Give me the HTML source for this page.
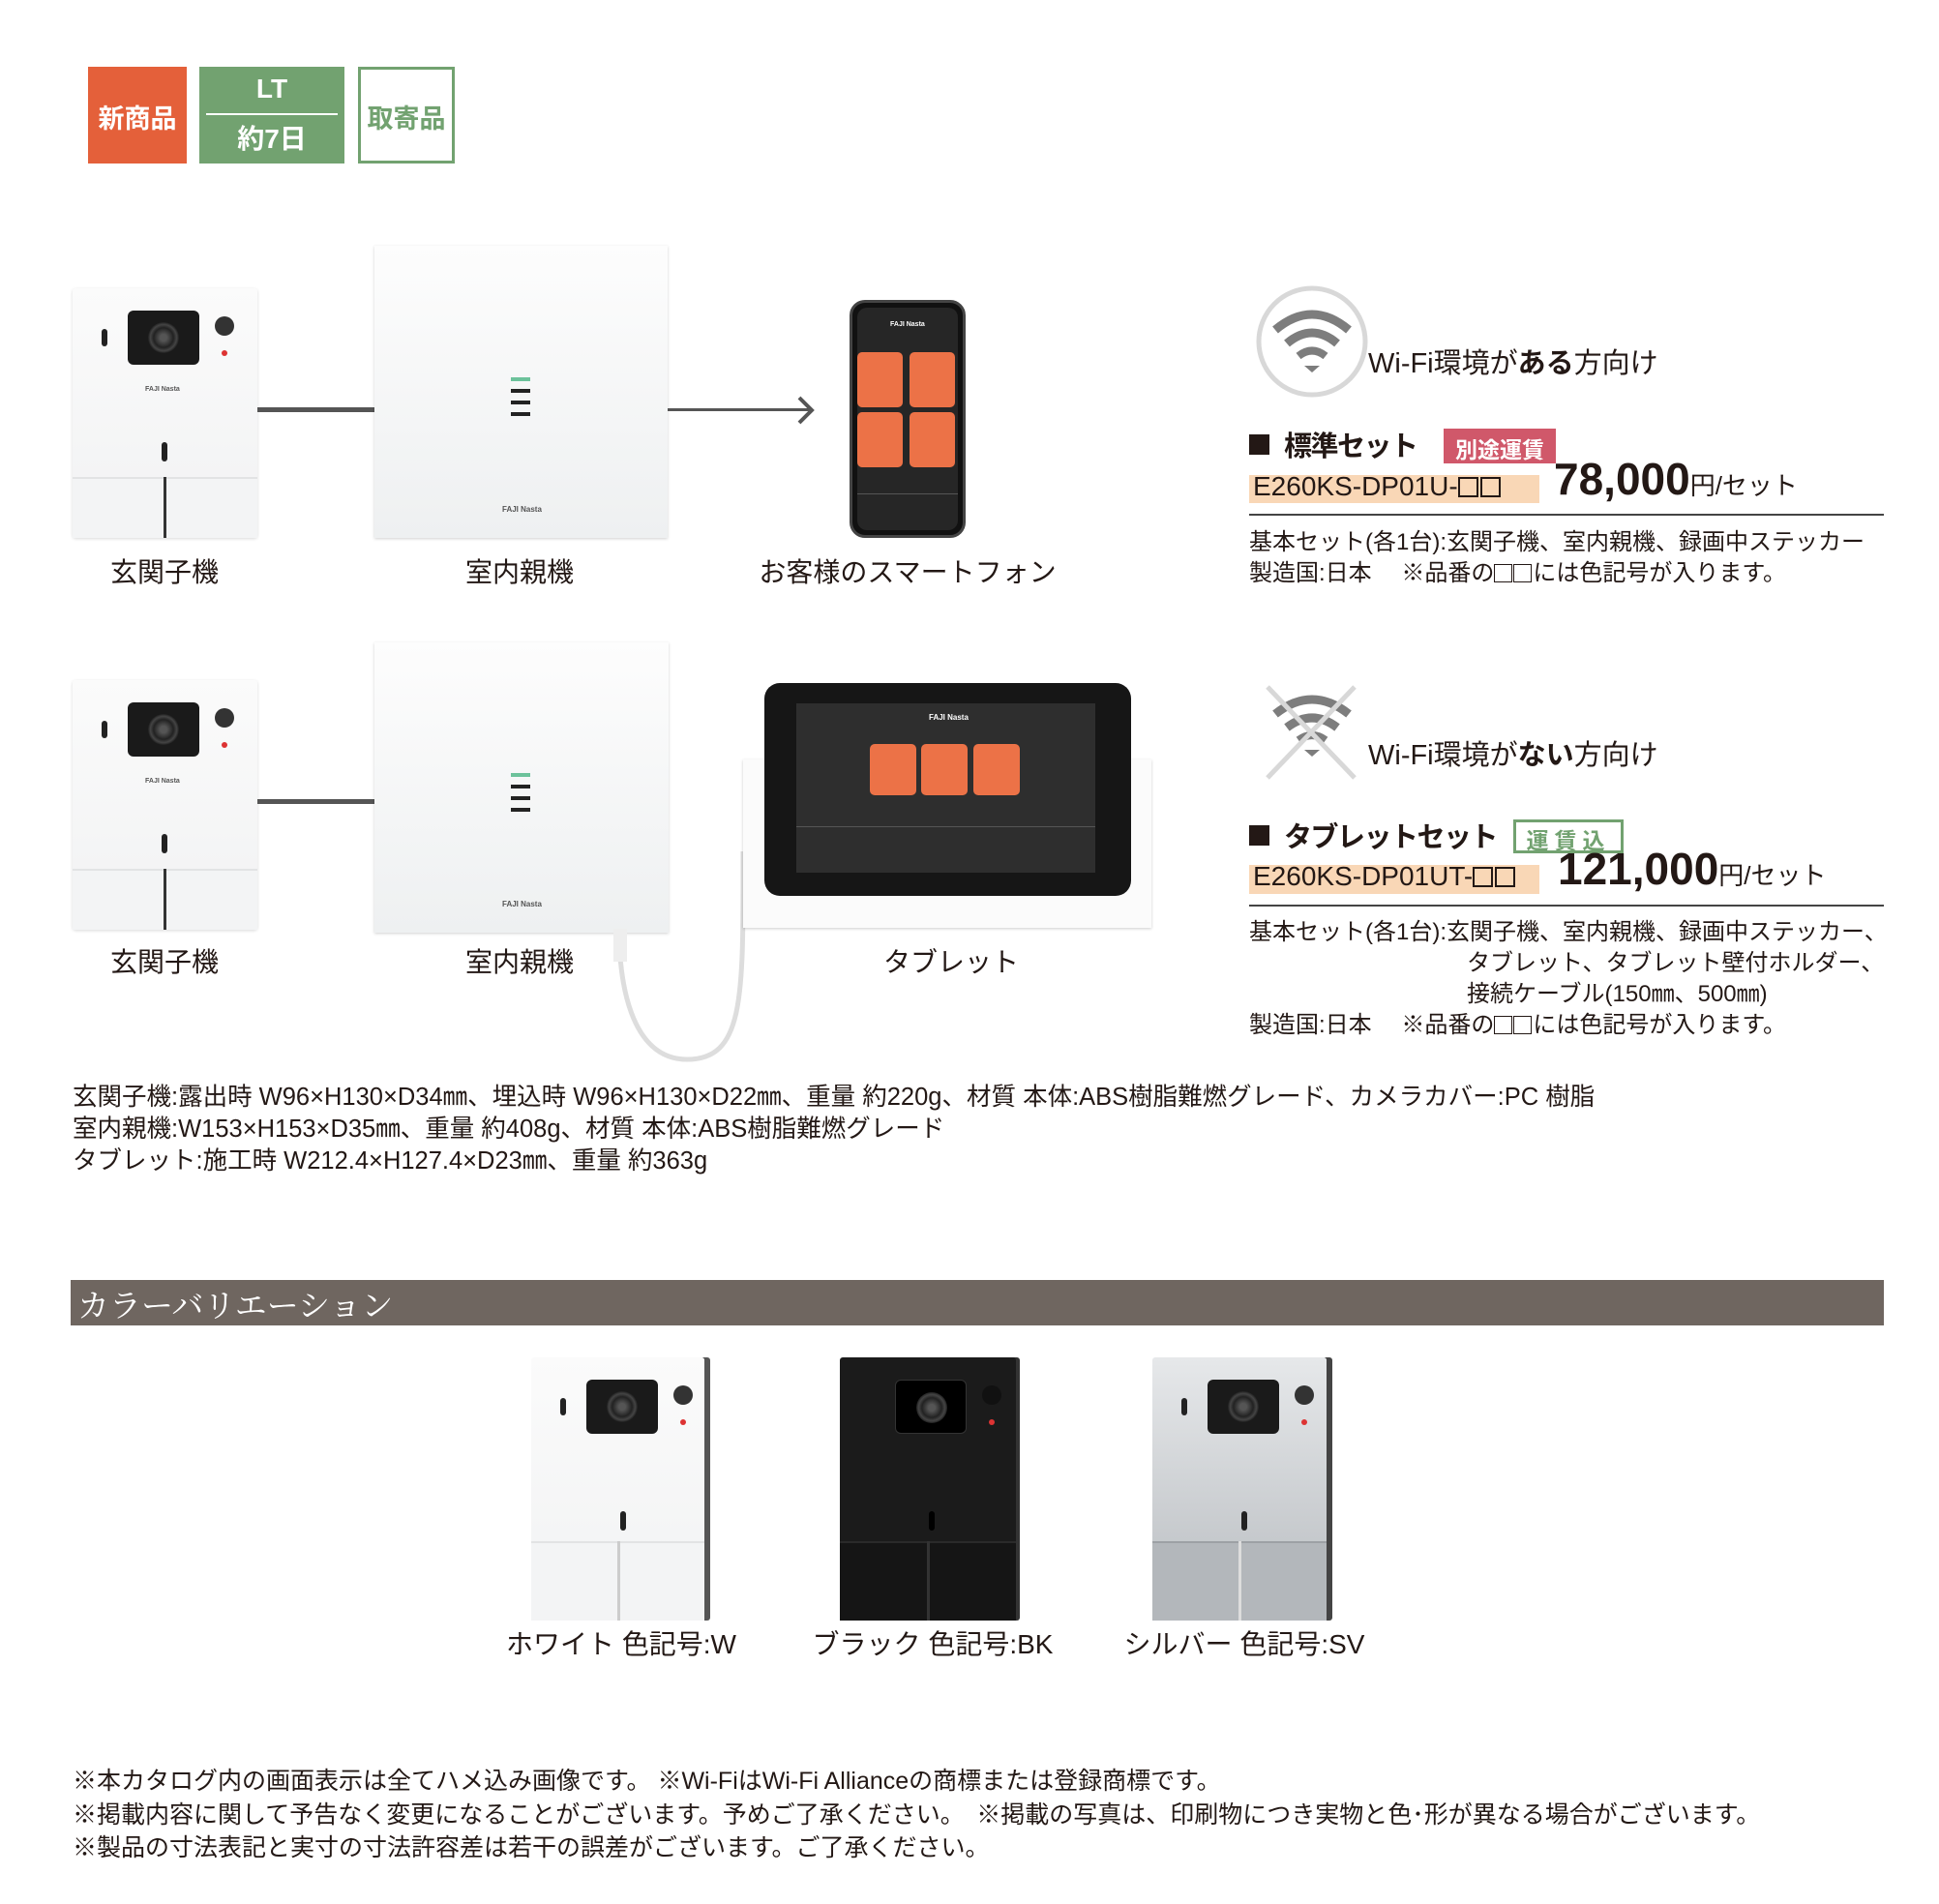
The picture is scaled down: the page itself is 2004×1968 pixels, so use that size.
<!DOCTYPE html>
<html><head><meta charset="utf-8">
<style>
*{margin:0;padding:0;box-sizing:border-box}
body{width:2004px;height:1968px;background:#fff;position:relative;overflow:hidden;font-family:"Liberation Sans","Noto Sans CJK JP",sans-serif;color:#231815}
.a{position:absolute}
.t{position:absolute;white-space:nowrap}
.sq{display:inline-block;width:21px;height:21px;border:2px solid #231815;margin-right:2px;vertical-align:-2px}
.sq2{display:inline-block;width:19px;height:19px;border:1.5px solid #231815;margin-right:1px;vertical-align:-2px}
.dev{position:absolute;width:191px;height:258px;background:linear-gradient(#fbfbfb,#f1f2f3);border-radius:3px;box-shadow:0 1px 3px rgba(0,0,0,.15)}
.dev .cam{position:absolute;left:57px;top:23px;width:74px;height:56px;background:#1a1a1a;border-radius:6px}
.dev .cam:after{content:"";position:absolute;left:21px;top:12px;width:32px;height:32px;border-radius:50%;background:radial-gradient(#555 15%,#222 45%,#444 60%,#111 75%)}
.dev .sl{position:absolute;left:30px;top:42px;width:6px;height:18px;background:#222;border-radius:3px}
.dev .bt{position:absolute;left:147px;top:29px;width:20px;height:20px;border-radius:50%;background:#333}
.dev .rd{position:absolute;left:154px;top:64px;width:6px;height:6px;border-radius:50%;background:#d33}
.dev .lg{position:absolute;left:75px;top:101px;font-size:7px;color:#555;font-weight:bold}
.dev .s2{position:absolute;left:92px;top:159px;width:6px;height:20px;background:#222;border-radius:3px}
.dev .bot{position:absolute;left:0;top:195px;width:191px;height:63px;border-top:2px solid #e2e3e4;background:#f3f4f5}
.dev .div{position:absolute;left:94px;top:195px;width:3px;height:63px;background:#333}
.ind{position:absolute;background:linear-gradient(#fdfdfd,#eef0f1);box-shadow:0 1px 3px rgba(0,0,0,.18)}
.ind i{position:absolute;width:20px;height:4px;background:#222}
.lbl{position:absolute;font-size:28px;white-space:nowrap;transform:translateX(-50%)}
.tile{position:absolute;background:#ec7247;border-radius:5px}
</style></head><body>

<!-- badges -->
<div class="a" style="left:91px;top:69px;width:102px;height:100px;background:#e4603a"></div>
<div class="t" style="left:91px;top:101px;width:102px;text-align:center;color:#fff;font-size:27px;font-weight:bold">新商品</div>
<div class="a" style="left:206px;top:69px;width:150px;height:100px;background:#72a270"></div>
<div class="t" style="left:206px;top:76px;width:150px;text-align:center;color:#fff;font-size:28px;font-weight:bold">LT</div>
<div class="a" style="left:213px;top:117px;width:136px;height:2px;background:#fff"></div>
<div class="t" style="left:206px;top:122px;width:150px;text-align:center;color:#fff;font-size:28px;font-weight:bold">約7日</div>
<div class="a" style="left:370px;top:69px;width:100px;height:100px;border:3px solid #72a270"></div>
<div class="t" style="left:370px;top:101px;width:100px;text-align:center;color:#72a270;font-size:27px;font-weight:bold">取寄品</div>

<!-- row 1 -->
<div class="dev" style="left:75px;top:298px"><div class="cam"></div><div class="sl"></div><div class="bt"></div><div class="rd"></div><div class="lg">FAJI Nasta</div><div class="s2"></div><div class="bot"></div><div class="div"></div></div>
<div class="a" style="left:266px;top:421px;width:121px;height:5px;background:#555"></div>
<div class="ind" style="left:387px;top:254px;width:303px;height:302px">
<i style="left:141px;top:136px;background:#6cc29b"></i><i style="left:141px;top:148px"></i><i style="left:141px;top:160px"></i><i style="left:141px;top:172px"></i>
<div class="t" style="left:132px;top:268px;font-size:8px;color:#555;font-weight:bold">FAJI Nasta</div></div>
<div class="a" style="left:690px;top:422px;width:150px;height:3px;background:#555"></div>
<svg class="a" style="left:822px;top:408px" width="22" height="32"><polyline points="4,3 17,16 4,29" fill="none" stroke="#555" stroke-width="4"/></svg>
<!-- phone -->
<div class="a" style="left:878px;top:310px;width:120px;height:246px;background:#111;border-radius:16px;border:3px solid #444"></div>
<div class="a" style="left:886px;top:318px;width:104px;height:230px;background:#262626;border-radius:10px"></div>
<div class="t" style="left:920px;top:332px;font-size:7px;color:#fff;font-weight:bold">FAJI Nasta</div>
<div class="tile" style="left:886px;top:364px;width:47px;height:57px"></div>
<div class="tile" style="left:940px;top:364px;width:47px;height:57px"></div>
<div class="tile" style="left:886px;top:426px;width:47px;height:57px"></div>
<div class="tile" style="left:940px;top:426px;width:47px;height:57px"></div>
<div class="a" style="left:886px;top:510px;width:104px;height:1px;background:#555"></div>
<div class="lbl" style="left:170px;top:570px">玄関子機</div>
<div class="lbl" style="left:537px;top:570px">室内親機</div>
<div class="lbl" style="left:938px;top:570px">お客様のスマートフォン</div>

<!-- row 2 -->
<div class="dev" style="left:75px;top:703px"><div class="cam"></div><div class="sl"></div><div class="bt"></div><div class="rd"></div><div class="lg">FAJI Nasta</div><div class="s2"></div><div class="bot"></div><div class="div"></div></div>
<div class="a" style="left:266px;top:826px;width:121px;height:5px;background:#555"></div>
<div class="ind" style="left:387px;top:664px;width:304px;height:300px">
<i style="left:141px;top:135px;background:#6cc29b"></i><i style="left:141px;top:147px"></i><i style="left:141px;top:159px"></i><i style="left:141px;top:171px"></i>
<div class="t" style="left:132px;top:266px;font-size:8px;color:#555;font-weight:bold">FAJI Nasta</div></div>
<svg class="a" style="left:620px;top:880px" width="170" height="220"><path d="M20,84 C20,130 30,215 90,215 C150,215 148,150 148,0" fill="none" stroke="#ddd" stroke-width="5"/><rect x="14" y="80" width="14" height="34" fill="#eee"/></svg>
<div class="a" style="left:768px;top:785px;width:422px;height:174px;background:#fbfbfb;box-shadow:0 1px 3px rgba(0,0,0,.2)"></div>
<div class="a" style="left:790px;top:706px;width:379px;height:220px;background:#161616;border-radius:16px"></div>
<div class="a" style="left:823px;top:727px;width:309px;height:175px;background:#2e2e2e"></div>
<div class="t" style="left:960px;top:737px;font-size:8px;color:#fff;font-weight:bold">FAJI Nasta</div>
<div class="tile" style="left:899px;top:769px;width:48px;height:53px"></div>
<div class="tile" style="left:952px;top:769px;width:48px;height:53px"></div>
<div class="tile" style="left:1006px;top:769px;width:48px;height:53px"></div>
<div class="a" style="left:823px;top:854px;width:309px;height:1px;background:#555"></div>
<div class="lbl" style="left:170px;top:973px">玄関子機</div>
<div class="lbl" style="left:537px;top:973px">室内親機</div>
<div class="lbl" style="left:983px;top:973px">タブレット</div>

<!-- right column -->
<svg class="a" style="left:1296px;top:293px" width="120" height="120">
<circle cx="60" cy="60" r="55" fill="none" stroke="#d8d8d8" stroke-width="5"/>
<path d="M22,48 Q60,16 98,48" fill="none" stroke="#7d7d7d" stroke-width="9"/>
<path d="M34,62 Q60,40 86,62" fill="none" stroke="#7d7d7d" stroke-width="9"/>
<path d="M46,75 Q60,64 74,75" fill="none" stroke="#7d7d7d" stroke-width="8"/>
<polygon points="52,85 68,85 60,92" fill="#7d7d7d"/></svg>
<div class="t" style="left:1414px;top:352px;font-size:29px">Wi-Fi環境が<b>ある</b>方向け</div>
<div class="a" style="left:1291px;top:449px;width:21px;height:21px;background:#231815"></div>
<div class="t" style="left:1327px;top:438px;font-size:29px;font-weight:bold;letter-spacing:-1.5px">標準セット</div>
<div class="a" style="left:1492px;top:443px;width:116px;height:36px;background:#d0586a"></div>
<div class="t" style="left:1492px;top:446px;width:116px;text-align:center;color:#fff;font-size:23px;font-weight:bold">別途運賃</div>
<div class="a" style="left:1291px;top:491px;width:300px;height:29px;background:#f9d7b6"></div>
<div class="t" style="left:1295px;top:487px;font-size:28px">E260KS-DP01U-<span class="sq"></span><span class="sq"></span></div>
<div class="t" style="left:1606px;top:468px;font-size:46px;font-weight:bold">78,000<span style="font-size:26px;font-weight:normal">円/セット</span></div>
<div class="a" style="left:1291px;top:531px;width:656px;height:2px;background:#444"></div>
<div class="t" style="left:1291px;top:545px;font-size:24px;line-height:32px">基本セット(各1台):玄関子機、室内親機、録画中ステッカー<br>製造国:日本　 ※品番の<span class="sq2"></span><span class="sq2"></span>には色記号が入ります。</div>

<svg class="a" style="left:1300px;top:700px" width="110" height="110">
<path d="M18,38 Q56,8 94,38" fill="none" stroke="#7d7d7d" stroke-width="9"/>
<path d="M30,52 Q56,32 82,52" fill="none" stroke="#7d7d7d" stroke-width="9"/>
<path d="M42,65 Q56,55 70,65" fill="none" stroke="#7d7d7d" stroke-width="8"/>
<polygon points="48,75 64,75 56,82" fill="#7d7d7d"/>
<line x1="10" y1="10" x2="100" y2="104" stroke="#d8d8d8" stroke-width="5"/>
<line x1="100" y1="10" x2="10" y2="104" stroke="#d8d8d8" stroke-width="5"/></svg>
<div class="t" style="left:1414px;top:757px;font-size:29px">Wi-Fi環境が<b>ない</b>方向け</div>
<div class="a" style="left:1291px;top:853px;width:21px;height:21px;background:#231815"></div>
<div class="t" style="left:1327px;top:842px;font-size:29px;font-weight:bold;letter-spacing:-1.5px">タブレットセット</div>
<div class="a" style="left:1564px;top:847px;width:114px;height:35px;border:3px solid #72a270"></div>
<div class="t" style="left:1564px;top:850px;width:114px;text-align:center;color:#72a270;font-size:23px;font-weight:bold;letter-spacing:6px">運賃込</div>
<div class="a" style="left:1291px;top:894px;width:300px;height:30px;background:#f9d7b6"></div>
<div class="t" style="left:1295px;top:890px;font-size:28px">E260KS-DP01UT-<span class="sq"></span><span class="sq"></span></div>
<div class="t" style="left:1610px;top:871px;font-size:46px;font-weight:bold">121,000<span style="font-size:26px;font-weight:normal">円/セット</span></div>
<div class="a" style="left:1291px;top:935px;width:656px;height:2px;background:#444"></div>
<div class="t" style="left:1291px;top:948px;font-size:24px;line-height:32px">基本セット(各1台):玄関子機、室内親機、録画中ステッカー、<br><span style="padding-left:225px">タブレット、タブレット壁付ホルダー、</span><br><span style="padding-left:225px">接続ケーブル(150㎜、500㎜)</span><br>製造国:日本　 ※品番の<span class="sq2"></span><span class="sq2"></span>には色記号が入ります。</div>

<!-- specs -->
<div class="t" style="left:75px;top:1118px;font-size:25.5px;line-height:33px">玄関子機:露出時 W96×H130×D34㎜、埋込時 W96×H130×D22㎜、重量 約220g、材質 本体:ABS樹脂難燃グレード、カメラカバー:PC 樹脂<br>室内親機:W153×H153×D35㎜、重量 約408g、材質 本体:ABS樹脂難燃グレード<br>タブレット:施工時 W212.4×H127.4×D23㎜、重量 約363g</div>

<!-- color variation -->
<div class="a" style="left:73px;top:1323px;width:1874px;height:47px;background:#6f6660"></div>
<div class="t" style="left:80px;top:1324px;font-size:33px;color:#fff;font-family:'Liberation Serif','Noto Serif CJK SC',serif">カラーバリエーション</div>

<div class="dev" style="left:549px;top:1403px;width:179px;height:272px;box-shadow:6px 0 0 #555"><div class="cam"></div><div class="sl"></div><div class="bt"></div><div class="rd"></div><div class="s2"></div><div class="bot" style="width:179px;top:190px;height:82px"></div><div class="div" style="left:89px;top:190px;height:82px;background:#ccc"></div></div>
<div class="dev" style="left:868px;top:1403px;width:182px;height:272px;background:#1b1b1b;box-shadow:4px 0 0 #333"><div class="cam" style="background:#000;border:1px solid #333"></div><div class="bt" style="background:#111"></div><div class="rd"></div><div class="s2" style="background:#000"></div><div class="bot" style="width:182px;top:190px;height:82px;background:#151515;border-top:2px solid #2a2a2a"></div><div class="div" style="left:90px;top:190px;height:82px;background:#333"></div></div>
<div class="dev" style="left:1191px;top:1403px;width:180px;height:272px;background:linear-gradient(#e6e8ea,#b8bcc0);box-shadow:6px 0 0 #444"><div class="cam"></div><div class="sl"></div><div class="bt"></div><div class="rd"></div><div class="s2"></div><div class="bot" style="width:180px;top:190px;height:82px;background:#b3b7bb;border-top:2px solid #9da1a5"></div><div class="div" style="left:89px;top:190px;height:82px;background:#ddd"></div></div>
<div class="lbl" style="left:642px;top:1678px">ホワイト 色記号:W</div>
<div class="lbl" style="left:964px;top:1678px">ブラック 色記号:BK</div>
<div class="lbl" style="left:1286px;top:1678px">シルバー 色記号:SV</div>

<!-- footer -->
<div class="t" style="left:75px;top:1824px;font-size:25px;line-height:34.5px">※本カタログ内の画面表示は全てハメ込み画像です。 ※Wi-FiはWi-Fi Allianceの商標または登録商標です。<br>※掲載内容に関して予告なく変更になることがございます。予めご了承ください。　※掲載の写真は、印刷物につき実物と色･形が異なる場合がございます。<br>※製品の寸法表記と実寸の寸法許容差は若干の誤差がございます。ご了承ください。</div>
</body></html>
